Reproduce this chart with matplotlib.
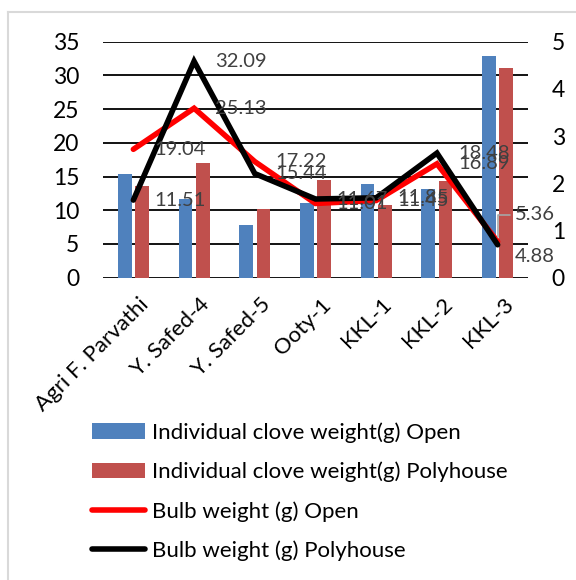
import matplotlib.pyplot as plt
import matplotlib.transforms as mtransforms
import numpy as np
from matplotlib.lines import Line2D

plt.rcParams["font.family"] = ["Lato", "DejaVu Sans"]

# data
varieties = ["Agri F. Parvathi", "Y. Safed-4", "Y. Safed-5", "Ooty-1",
             "KKL-1", "KKL-2", "KKL-3"]
clove_open = [2.20, 1.66, 1.12, 1.58, 1.98, 1.87, 4.70]
clove_poly = [1.94, 2.42, 1.45, 2.07, 1.55, 2.05, 4.45]
bulb_open = [19.04, 25.13, 17.22, 11.01, 11.45, 16.89, 5.36]
bulb_poly = [11.51, 32.09, 15.44, 11.67, 11.85, 18.48, 4.88]

left_ticks = [0, 5, 10, 15, 20, 25, 30, 35]
right_ticks = [0, 1, 2, 3, 4, 5]

labels = ["Individual clove weight(g) Open",
          "Individual clove weight(g) Polyhouse",
          "Bulb weight (g) Open",
          "Bulb weight (g) Polyhouse"]

BLUE = "#4F81BD"
RED_BAR = "#C0504D"
LABEL_GREY = "#404040"

fig = plt.figure(figsize=(5.76, 5.80), dpi=100)
ax = fig.add_axes([103 / 576, 1 - 277.7 / 580, 425 / 576, 236 / 580])
ax2 = ax.twinx()

x = np.arange(len(varieties))
w = 0.225

# bars on the secondary (right) scale, drawn in the lower axes
b1 = ax.bar(x - 0.143, clove_open, w, color=BLUE, zorder=2)
b2 = ax.bar(x + 0.143, clove_poly, w, color=RED_BAR, zorder=2)
ax.set_ylim(0, right_ticks[-1])
ax.set_xlim(-0.5, len(varieties) - 0.5)

# horizontal gridlines follow the left (primary) scale
scale = right_ticks[-1] / left_ticks[-1]
ax.hlines(np.array(left_ticks) * scale, -0.5, len(varieties) - 0.5,
          color="black", lw=1.3, zorder=1)

# lines on the primary (left) scale
l1, = ax2.plot(x, bulb_open, color="#FF0000", lw=4, solid_capstyle="round",
               solid_joinstyle="miter", zorder=3)
l2, = ax2.plot(x, bulb_poly, color="black", lw=4, solid_capstyle="round",
               solid_joinstyle="miter", zorder=4)
ax2.set_ylim(0, left_ticks[-1])

# data labels
LBL = 14.5
for i in range(len(varieties) - 1):
    for v in (bulb_open[i], bulb_poly[i]):
        ax2.annotate(f"{v:.2f}", (x[i], v), xytext=(21, 0),
                     textcoords="offset pixels", ha="left", va="center",
                     fontsize=LBL, color=LABEL_GREY, zorder=5)
last = len(varieties) - 1
ax2.annotate(f"{bulb_open[last]:.2f}", (x[last], bulb_open[last]),
             xytext=(17, 27), textcoords="offset pixels", ha="left",
             va="center", fontsize=LBL, color=LABEL_GREY, zorder=5,
             arrowprops=dict(arrowstyle="-", color="#a6a6a6", lw=1.2,
                             relpos=(0, 0.5), shrinkA=1, shrinkB=3,
                             connectionstyle="angle,angleA=0,angleB=90,rad=0"))
ax2.annotate(f"{bulb_poly[last]:.2f}", (x[last], bulb_poly[last]),
             xytext=(17, -12), textcoords="offset pixels", ha="left",
             va="center", fontsize=LBL, color=LABEL_GREY, zorder=5)

# axes styling
for a in (ax, ax2):
    for s in a.spines.values():
        s.set_visible(False)
ax.yaxis.tick_right()
ax.set_yticks(right_ticks)
ax.tick_params(axis="y", length=0, pad=17, labelsize=16.5)
ax2.yaxis.tick_left()
ax2.set_yticks(left_ticks)
ax2.tick_params(axis="y", length=0, pad=17, labelsize=16.5)

ax.set_xticks(x)
ax.set_xticklabels(varieties, rotation=45, ha="right", va="top",
                   rotation_mode="anchor", fontsize=16)
ax.tick_params(axis="x", length=0, pad=12)
shift = mtransforms.ScaledTranslation(4 / 72, 0, fig.dpi_scale_trans)
for t in ax.get_xticklabels():
    t.set_transform(t.get_transform() + shift)

fig.legend([b1, b2, l1, l2], labels, loc="upper left",
           bbox_to_anchor=(92 / 576, 1 - 422 / 580), frameon=False,
           fontsize=16, handlelength=2.4, handletextpad=0.3,
           labelspacing=0.85, borderpad=0, borderaxespad=0)

# light border of the chart area (top and left only visible in reference)
fig.add_artist(Line2D([8 / 576, 8 / 576], [0, 1 - 11.7 / 580],
                      transform=fig.transFigure, color="#d9d9d9", lw=1.5))
fig.add_artist(Line2D([8 / 576, 1], [1 - 11.7 / 580, 1 - 11.7 / 580],
                      transform=fig.transFigure, color="#d9d9d9", lw=1.5))

fig.savefig("out.png", dpi=100)
